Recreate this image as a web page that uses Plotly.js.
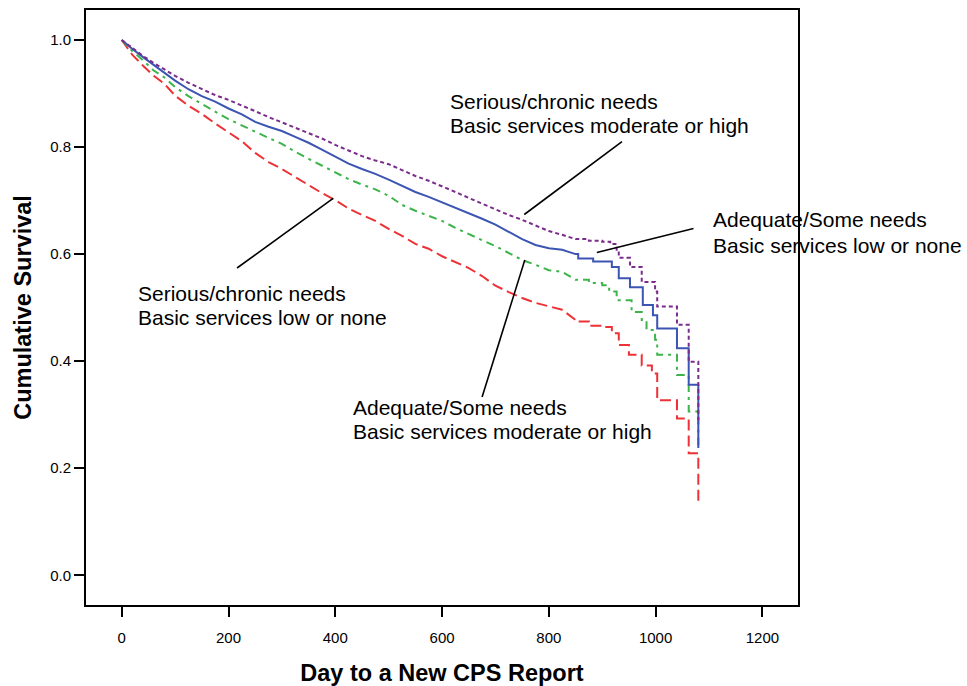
<!DOCTYPE html>
<html>
<head>
<meta charset="utf-8">
<script src="https://cdn.plot.ly/plotly-3.0.1.min.js"></script>
<style>
  html, body { margin: 0; padding: 0; background: #ffffff; }
  #chart { width: 967px; height: 686px; }
</style>
</head>
<body>
<div id="chart"></div>
<script>
// Kaplan-Meier survival: days until a new CPS report, four need / service groups.

// Dense early part of the curves (read at a common day grid)
const earlyDays = [0, 20, 40, 60, 80, 100, 125, 150, 175, 200, 225, 250, 275, 300, 325, 350,
  375, 400, 425, 450, 475, 500, 525, 550, 575, 600, 625, 650, 675, 700, 725, 750, 775, 800, 825, 850];

// Serious/chronic needs, basic services moderate or high
const seriousHighEarly = [1.000, 0.985, 0.970, 0.957, 0.945, 0.933, 0.920, 0.908, 0.897, 0.888, 0.878, 0.867,
  0.856, 0.846, 0.836, 0.827, 0.816, 0.804, 0.793, 0.783, 0.775, 0.768, 0.757, 0.746, 0.737, 0.727,
  0.716, 0.705, 0.694, 0.683, 0.673, 0.664, 0.653, 0.643, 0.636, 0.628];
const seriousHighStepDays = [875, 900, 915, 927, 931, 952, 974, 999, 1003, 1040, 1062, 1080];
const seriousHighStepSurv = [0.625, 0.623, 0.619, 0.608, 0.593, 0.576, 0.548, 0.530, 0.502, 0.468, 0.399, 0.290];

// Adequate/Some needs, basic services low or none
const adequateLowEarly = [1.000, 0.983, 0.968, 0.953, 0.939, 0.924, 0.908, 0.895, 0.885, 0.872, 0.861, 0.847,
  0.838, 0.830, 0.819, 0.808, 0.795, 0.782, 0.769, 0.759, 0.750, 0.739, 0.728, 0.716, 0.707, 0.697,
  0.687, 0.677, 0.666, 0.655, 0.641, 0.628, 0.617, 0.611, 0.608, 0.600];
const adequateLowStepDays = [855, 883, 918, 931, 952, 976, 995, 1003, 1040, 1062, 1080];
const adequateLowStepSurv = [0.592, 0.586, 0.576, 0.555, 0.538, 0.505, 0.486, 0.461, 0.424, 0.356, 0.238];

// Adequate/Some needs, basic services moderate or high
const adequateHighEarly = [1.000, 0.979, 0.962, 0.943, 0.930, 0.912, 0.895, 0.880, 0.866, 0.852, 0.840, 0.828,
  0.817, 0.806, 0.791, 0.778, 0.765, 0.752, 0.740, 0.730, 0.721, 0.709, 0.692, 0.681, 0.671, 0.662,
  0.649, 0.637, 0.626, 0.615, 0.602, 0.589, 0.580, 0.570, 0.567, 0.552];
const adequateHighStepDays = [875, 900, 913, 927, 955, 974, 983, 999, 1003, 1040, 1062, 1080];
const adequateHighStepSurv = [0.546, 0.542, 0.530, 0.514, 0.492, 0.477, 0.458, 0.440, 0.412, 0.374, 0.306, 0.234];

// Serious/chronic needs, basic services low or none
const seriousLowEarly = [1.000, 0.972, 0.952, 0.933, 0.918, 0.896, 0.877, 0.862, 0.844, 0.828, 0.811, 0.789,
  0.772, 0.759, 0.744, 0.729, 0.714, 0.701, 0.685, 0.673, 0.662, 0.647, 0.634, 0.619, 0.610, 0.596,
  0.585, 0.574, 0.559, 0.541, 0.529, 0.518, 0.509, 0.503, 0.496, 0.477];
const seriousLowStepDays = [855, 875, 900, 918, 931, 950, 974, 993, 1003, 1040, 1062, 1080];
const seriousLowStepSurv = [0.474, 0.466, 0.464, 0.452, 0.430, 0.412, 0.392, 0.377, 0.327, 0.293, 0.228, 0.131];

const xTicks = [0, 200, 400, 600, 800, 1000, 1200];
const yTicks = [0.0, 0.2, 0.4, 0.6, 0.8, 1.0];

// Early samples are joined directly; later events are drawn as KM steps.
function survivalPath(early, stepDays, stepSurv) {
  const x = earlyDays.slice();
  const y = early.slice();
  let prev = y[y.length - 1];
  for (let i = 0; i < stepDays.length; i++) {
    x.push(stepDays[i], stepDays[i]);
    y.push(prev, stepSurv[i]);
    prev = stepSurv[i];
  }
  return { x, y };
}

function curve(early, stepDays, stepSurv, color, dash, name) {
  const p = survivalPath(early, stepDays, stepSurv);
  return {
    type: 'scatter', mode: 'lines', name: name,
    x: p.x, y: p.y,
    line: { color: color, width: 2, dash: dash, shape: 'linear' },
    hoverinfo: 'x+y+name'
  };
}

const traces = [
  curve(seriousLowEarly, seriousLowStepDays, seriousLowStepSurv, '#ec3236', '11px,5px',
    'Serious/chronic needs, low or none'),
  curve(adequateHighEarly, adequateHighStepDays, adequateHighStepSurv, '#3cb44a', '8px,5px,3px,5px',
    'Adequate/Some needs, moderate or high'),
  curve(adequateLowEarly, adequateLowStepDays, adequateLowStepSurv, '#3d55b2', 'solid',
    'Adequate/Some needs, low or none'),
  curve(seriousHighEarly, seriousHighStepDays, seriousHighStepSurv, '#7a2c8c', '4px,3px',
    'Serious/chronic needs, moderate or high')
];

const FONT = 'Liberation Sans, Arial, Helvetica, sans-serif';

function label(x, y, text) {
  return {
    x: x, y: y, xref: 'x', yref: 'y', text: text, showarrow: false,
    xanchor: 'left', yanchor: 'middle', align: 'left',
    font: { family: FONT, size: 21, color: '#000000' }
  };
}

const annotations = [
  label(611, 0.886, 'Serious/chronic needs'),
  label(611, 0.840, 'Basic services moderate or high'),
  label(1104, 0.664, 'Adequate/Some needs'),
  label(1104, 0.617, 'Basic services low or none'),
  label(26, 0.527, 'Serious/chronic needs'),
  label(26, 0.481, 'Basic services low or none'),
  label(430, 0.313, 'Adequate/Some needs'),
  label(430, 0.268, 'Basic services moderate or high')
];

function leader(x0, y0, x1, y1) {
  return { type: 'line', xref: 'x', yref: 'y', x0: x0, y0: y0, x1: x1, y1: y1,
    line: { color: '#000000', width: 1.6 } };
}

const shapes = [
  leader(754, 0.674, 937, 0.810),
  leader(890, 0.603, 1071, 0.648),
  leader(216, 0.574, 396, 0.704),
  leader(675, 0.333, 755, 0.589)
];

const layout = {
  width: 967, height: 686,
  margin: { l: 86, r: 169, t: 10, b: 81, pad: 0 },
  paper_bgcolor: '#ffffff', plot_bgcolor: '#ffffff',
  showlegend: false,
  font: { family: FONT, color: '#000000' },
  xaxis: {
    range: [-66.9, 1266.7], tickvals: xTicks, ticktext: xTicks.map(String),
    showgrid: false, zeroline: false,
    showline: true, linecolor: '#000000', linewidth: 2, mirror: true,
    ticks: 'outside', ticklen: 10, tickwidth: 2, tickcolor: '#000000',
    ticklabelstandoff: 8,
    tickfont: { family: FONT, size: 15, color: '#000000' },
    title: { text: '<b>Day to a New CPS Report</b>', font: { family: FONT, size: 23.5, color: '#000000' }, standoff: 20 },
    automargin: false
  },
  yaxis: {
    range: [-0.0555, 1.056], tickvals: yTicks, ticktext: yTicks.map(v => v.toFixed(1)),
    showgrid: false, zeroline: false,
    showline: true, linecolor: '#000000', linewidth: 2, mirror: true,
    ticks: 'outside', ticklen: 10, tickwidth: 2, tickcolor: '#000000',
    tickfont: { family: FONT, size: 15, color: '#000000' },
    title: { text: '<b>Cumulative Survival</b>', font: { family: FONT, size: 23.5, color: '#000000' }, standoff: 12 },
    automargin: false
  },
  annotations: annotations,
  shapes: shapes
};

Plotly.newPlot('chart', traces, layout, { displayModeBar: false, responsive: false });
</script>
</body>
</html>
